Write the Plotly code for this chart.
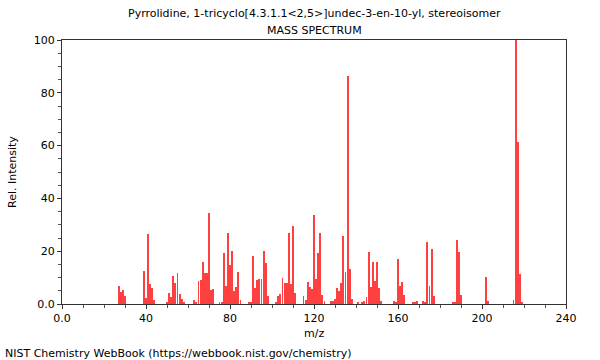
import plotly.graph_objects as go

mz = [27, 28, 29, 30,
      39, 40, 41, 42, 43, 44,
      50, 51, 52, 53, 54, 55, 56, 57, 58,
      63, 64, 65, 66, 67, 68, 69, 70, 71, 72,
      75, 76, 77, 78, 79, 80, 81, 82, 83, 84, 85,
      89, 90, 91, 92, 93, 94, 95, 96, 97, 98,
      102, 103, 104, 105, 106, 107, 108, 109, 110, 111,
      115, 116, 117, 118, 119, 120, 121, 122, 123, 124, 125,
      128, 129, 130, 131, 132, 133, 134, 135, 136, 137, 138,
      141, 143, 144, 145, 146, 147, 148, 149, 150, 151, 152,
      158, 159, 160, 161, 162, 163,
      167, 168, 169,
      172, 173, 174, 175, 176, 177,
      186, 187, 188, 189, 190,
      202, 203,
      215, 216, 217, 218, 219]

intensity = [6.8, 4.7, 5.3, 3.0,
             12.5, 2.1, 26.4, 7.4, 6.0, 1.5,
             0.9, 4.0, 2.7, 10.6, 8.1, 11.7, 3.9, 1.9, 0.8,
             1.6, 0.9, 8.8, 9.2, 15.9, 11.9, 11.9, 34.6, 5.4, 5.8,
             0.9, 0.9, 19.4, 6.9, 26.9, 14.6, 20.0, 5.0, 6.6, 12.2, 1.5,
             0.9, 0.6, 18.3, 5.9, 9.2, 9.6, 9.6, 20.0, 15.4, 3.2,
             0.9, 2.9, 3.7, 9.7, 8.1, 8.1, 26.8, 7.7, 29.7, 4.3,
             3.2, 1.6, 8.5, 6.6, 5.8, 33.8, 9.6, 19.4, 26.9, 3.5, 1.0,
             1.3, 1.3, 1.9, 6.0, 5.0, 7.8, 25.9, 12.2, 86.2, 13.1, 2.0,
             0.9, 0.9, 1.3, 2.7, 19.8, 6.6, 16.0, 8.8, 16.0, 6.2, 1.1,
             1.1, 0.8, 17.0, 6.7, 8.3, 3.4,
             0.8, 0.5, 1.0,
             1.1, 0.8, 23.5, 6.8, 20.8, 3.2,
             0.8, 0.8, 24.1, 19.7, 3.4,
             10.2, 1.3,
             1.6, 100.0, 61.2, 11.2, 0.8]

x_ticks = [0, 40, 80, 120, 160, 200, 240]
x_ticktext = ["0.0", "40", "80", "120", "160", "200", "240"]
y_ticks = [0, 20, 40, 60, 80, 100]
y_ticktext = ["0.0", "20", "40", "60", "80", "100"]

title_line1 = "Pyrrolidine, 1-tricyclo[4.3.1.1&lt;2,5&gt;]undec-3-en-10-yl, stereoisomer"
title_line2 = "MASS SPECTRUM"
footer = "NIST Chemistry WebBook (https://webbook.nist.gov/chemistry)"

fig = go.Figure()
fig.add_trace(go.Bar(x=mz, y=intensity, width=0.4,
                     marker=dict(color="#ff4040", line=dict(width=0)),
                     hoverinfo="skip", showlegend=False))

font = dict(family="DejaVu Sans", size=11, color="black")

fig.update_layout(
    width=600, height=360,
    margin=dict(l=62, r=34, t=40, b=56, autoexpand=False),
    paper_bgcolor="white", plot_bgcolor="white",
    font=font,
    showlegend=False,
    bargap=0,
    annotations=[
        dict(text=title_line1, x=0.5, y=1, xref="paper", yref="paper",
             yshift=27, showarrow=False, font=font,
             xanchor="center", yanchor="middle"),
        dict(text=title_line2, x=0.5, y=1, xref="paper", yref="paper",
             yshift=10, showarrow=False, font=font,
             xanchor="center", yanchor="middle"),
        dict(text=footer, x=0, y=0, xref="paper", yref="paper",
             xshift=-59, yshift=-49, showarrow=False, font=font,
             xanchor="left", yanchor="middle"),
        dict(text="m/z", x=0.5, y=0, xref="paper", yref="paper",
             yshift=-29, showarrow=False, font=font,
             xanchor="center", yanchor="middle"),
        dict(text="Rel. Intensity", x=0, y=0.5, xref="paper", yref="paper",
             xshift=-50, textangle=-90, showarrow=False, font=font,
             xanchor="center", yanchor="middle"),
    ],
)

fig.update_xaxes(
    range=[0, 240], tickvals=x_ticks, ticktext=x_ticktext,
    ticks="outside", ticklen=4, tickcolor="#333", tickwidth=1,
    minor=dict(dtick=10, tick0=0, ticks="outside", ticklen=3, tickcolor="#555"),
    showline=True, linecolor="#333", linewidth=1, mirror=True,
    showgrid=False, zeroline=False, automargin=False,
)
fig.update_yaxes(
    range=[0, 100], tickvals=y_ticks, ticktext=y_ticktext,
    ticks="outside", ticklen=4, tickcolor="#333", tickwidth=1,
    minor=dict(dtick=5, tick0=0, ticks="outside", ticklen=3, tickcolor="#555"),
    showline=True, linecolor="#333", linewidth=1, mirror=True,
    showgrid=False, zeroline=False, automargin=False,
)

fig.write_html("out.html",
               config={"displayModeBar": False},
               post_script="document.body.style.margin='0';document.body.style.padding='0';")
